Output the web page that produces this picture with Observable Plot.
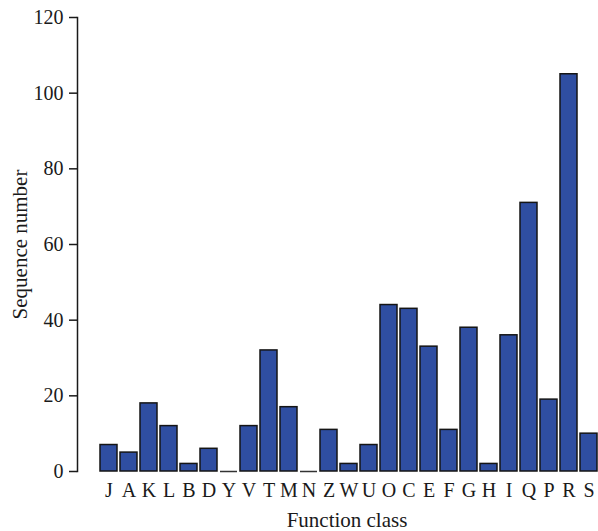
<!DOCTYPE html>
<html>
<head>
<meta charset="utf-8">
<script src="https://cdn.jsdelivr.net/npm/d3@7"></script>
<script src="https://cdn.jsdelivr.net/npm/@observablehq/plot@0.6"></script>
<style>
  html, body { margin: 0; padding: 0; background: #fff; }
</style>
</head>
<body>
<div id="chart"></div>
<script>
const categories = ["J","A","K","L","B","D","Y","V","T","M","N","Z","W","U","O","C","E","F","G","H","I","Q","P","R","S"];
const values = [7, 5, 18, 12, 2, 6, 0, 12, 32, 17, 0, 11, 2, 7, 44, 43, 33, 11, 38, 2, 36, 71, 19, 105, 10];
const yTicks = [0, 20, 40, 60, 80, 100, 120];
const xTitle = "Function class";
const yTitle = "Sequence number";

const data = categories.map((c, i) => ({c, v: values[i]}));

const chart = Plot.plot({
  width: 598,
  height: 531,
  marginLeft: 77,
  marginRight: 0,
  marginTop: 17,
  marginBottom: 60,
  style: {fontFamily: "'Liberation Serif', 'DejaVu Serif', serif", fontSize: "20px", color: "#1a1a1a", background: "#fff"},
  x: {domain: categories, range: [97, 600], paddingInner: 0.15, paddingOuter: 0},
  y: {domain: [0, 120]},
  marks: [
    Plot.barY(data, {x: "c", y: "v", fill: "#2f4ea1", stroke: "#151515", strokeWidth: 1.5}),
    Plot.tickY(data.filter(d => d.v === 0), {x: "c", y: "v", stroke: "#333", strokeWidth: 1.5}),
    Plot.frame({anchor: "left", stroke: "#1a1a1a", strokeWidth: 1.5}),
    Plot.axisY({ticks: yTicks, tickSize: 8, tickPadding: 6, fontSize: 20, tickFormat: d => String(d), label: null, stroke: "#1a1a1a", strokeWidth: 1.5}),
    Plot.axisY({ticks: [], tickSize: 0, fontSize: 21, label: yTitle, labelAnchor: "center", labelArrow: "none", labelOffset: 65}),
    Plot.axisX({tickSize: 0, tickPadding: 11, fontSize: 20, label: null}),
    Plot.text([xTitle], {text: d => d, frameAnchor: "bottom", lineAnchor: "top", dx: 9, dy: 41, fontSize: 21, fill: "#1a1a1a"})
  ]
});

document.getElementById("chart").appendChild(chart);
</script>
</body>
</html>
